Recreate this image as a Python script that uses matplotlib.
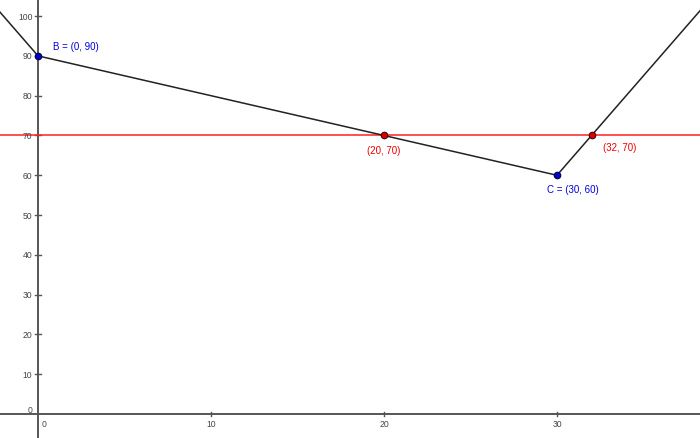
import matplotlib
matplotlib.use("Agg")
import matplotlib.pyplot as plt

plt.rcParams["font.family"] = ["Liberation Sans", "DejaVu Sans"]

# piecewise line (vertices) and the labelled points
line_x = [-3, 0, 30, 40]
line_y = [105, 90, 60, 110]
level = 70

blue_x = [0, 30]
blue_y = [90, 60]
blue_labels = ["B = (0, 90)", "C = (30, 60)"]

red_x = [20, 32]
red_y = [70, 70]
red_labels = ["(20, 70)", "(32, 70)"]

xticks = [0, 10, 20, 30]
yticks = list(range(0, 101, 10))

fig = plt.figure(figsize=(7, 4.39), dpi=100)
ax = fig.add_axes([0, 0, 1, 1])
ax.set_xlim(-2.2, 38.27)
ax.set_ylim(-6.03, 104.3)
ax.axis("off")

axcol = "#555555"
ax.axhline(0, color=axcol, lw=1.4, zorder=1)
ax.axvline(0, color=axcol, lw=1.4, zorder=1)

# tick marks + labels, geogebra style
for t in xticks:
    if t != 0:
        ax.plot([t, t], [-0.6, 0.6], color=axcol, lw=1)
    ax.annotate(str(t), (t, 0), xytext=(0 if t else 4.3, -6.5), textcoords="offset points",
                ha="center", va="center", fontsize=6.2, color="#444444")
for t in yticks:
    if t != 0:
        ax.plot([-0.18, 0.18], [t, t], color=axcol, lw=1)
    ax.annotate(str(t), (0, t), xytext=(-4, 3.5 if t == 0 else 0), textcoords="offset points",
                ha="right", va="center", fontsize=6.2, color="#444444")

ax.axhline(level, color="#ff2020", lw=1.1, zorder=2)
ax.plot(line_x, line_y, color="#222222", lw=1.1, zorder=3)

ax.scatter(blue_x, blue_y, s=22, color="#0000cc", edgecolor="#000044", lw=0.8, zorder=5)
ax.scatter(red_x, red_y, s=22, color="#dd0000", edgecolor="#440000", lw=0.8, zorder=5)

ax.annotate(blue_labels[0], (blue_x[0], blue_y[0]), xytext=(10.8, 7.2), textcoords="offset points",
            ha="left", va="center", fontsize=7, color="#0000dd")
ax.annotate(blue_labels[1], (blue_x[1], blue_y[1]), xytext=(-7.2, -10), textcoords="offset points",
            ha="left", va="center", fontsize=7, color="#0000dd")
ax.annotate(red_labels[0], (red_x[0], red_y[0]), xytext=(0, -10.8), textcoords="offset points",
            ha="center", va="center", fontsize=7, color="#ee0000")
ax.annotate(red_labels[1], (red_x[1], red_y[1]), xytext=(8.6, -8), textcoords="offset points",
            ha="left", va="center", fontsize=7, color="#ee0000")

fig.savefig("out.png", dpi=100)
